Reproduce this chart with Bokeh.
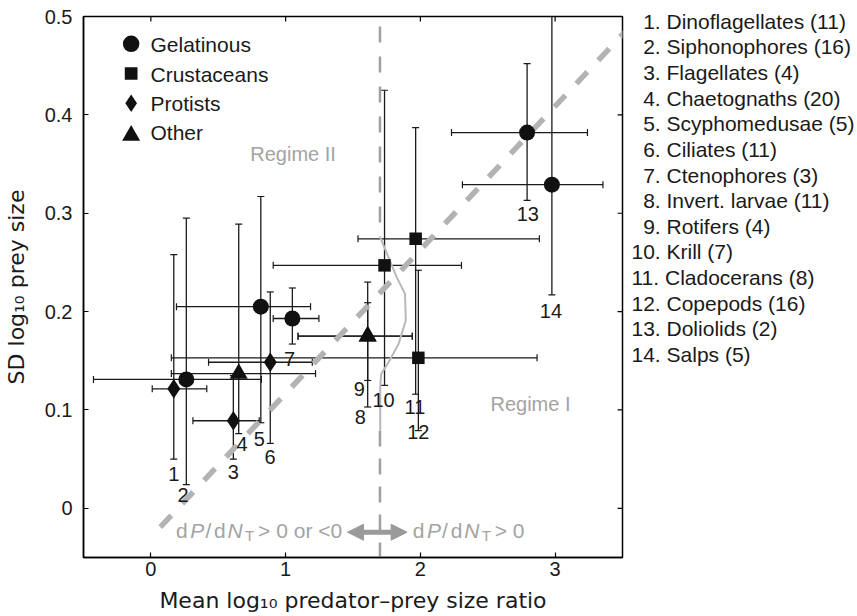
from bokeh.plotting import figure
from bokeh.models import (ColumnDataSource, Range1d, LinearAxis, FixedTicker, Label,
                          Arrow, NormalHead, Whisker, TeeHead)
from bokeh.core.properties import value
from bokeh.embed import file_html
from bokeh.resources import INLINE

# ---------------- data ----------------
taxa = ["Dinoflagellates", "Siphonophores", "Flagellates", "Chaetognaths",
        "Scyphomedusae", "Ciliates", "Ctenophores", "Invert. larvae", "Rotifers",
        "Krill", "Cladocerans", "Copepods", "Doliolids", "Salps"]
n_studies = [11, 16, 4, 20, 5, 11, 3, 11, 4, 7, 8, 16, 2, 5]
taxon_group = ["Protists", "Gelatinous", "Protists", "Other", "Gelatinous", "Protists",
               "Gelatinous", "Other", "Other", "Crustaceans", "Crustaceans",
               "Crustaceans", "Gelatinous", "Gelatinous"]
mean_ppmr = [0.170, 0.263, 0.612, 0.652, 0.816, 0.886, 1.050, 1.609, 1.609,
             1.734, 1.965, 1.985, 2.792, 2.976]
sd_prey = [0.1215, 0.131, 0.089, 0.137, 0.205, 0.1485, 0.193, 0.175, 0.175,
           0.247, 0.274, 0.153, 0.382, 0.329]
x_low = [0.010, -0.426, 0.312, 0.152, 0.190, 0.428, 0.908, 1.092, 1.092,
         0.908, 1.537, 0.152, 2.231, 2.312]
x_high = [0.415, 0.820, 0.804, 1.222, 1.185, 1.198, 1.247, 1.940, 1.940,
          2.305, 2.883, 2.866, 3.240, 3.355]
y_low = [0.050, 0.024, 0.050, 0.076, 0.087, 0.066, 0.167, 0.103, 0.130,
         0.125, 0.116, 0.079, 0.313, 0.217]
y_high = [0.258, 0.295, 0.135, 0.289, 0.317, 0.220, 0.224, 0.230, 0.209,
          0.425, 0.387, 0.242, 0.452, 0.500]
# position of each numeric tag (data units)
tag_x = [0.170, 0.238, 0.612, 0.676, 0.804, 0.885, 1.030, 1.554, 1.547,
         1.727, 1.960, 1.985, 2.797, 2.969]
tag_y = [0.0352, 0.0132, 0.0368, 0.0650, 0.0707, 0.0521, 0.1513, 0.0927, 0.1215,
         0.1103, 0.1028, 0.0775, 0.2992, 0.2010]

group_order = ["Gelatinous", "Crustaceans", "Protists", "Other"]

# reference lines
diag_x = [0.07, 3.55]
diag_y = [-0.019, 0.489]
regime_x = 1.70
dash_top_y = [0.50, 0.2755]
dash_bot_y = [0.0792, -0.05]
curve_x = [1.702, 1.825, 1.886, 1.892, 1.838, 1.764, 1.709, 1.702, 1.702]
curve_y = [0.2755, 0.2348, 0.218, 0.1909, 0.1672, 0.1485, 0.1367, 0.1232, 0.0792]

x_ticks = [0, 1, 2, 3]
y_ticks = [0, 0.1, 0.2, 0.3, 0.4, 0.5]
y_tick_labels = ["0", "0.1", "0.2", "0.3", "0.4", "0.5"]

# ---------------- layout / styling ----------------
FONT = "Liberation Sans"
TITLE_FONT = "DejaVu Sans"
INK = "#1a1a1a"
GRAY_TXT = "#a3a3a3"
X0, X1, Y0, Y1 = -0.5, 3.5, -0.05, 0.5
F_LEFT, F_RIGHT, F_TOP, F_BOTTOM = 79, 622, 16, 557      # frame box in page px
W, H = 857, 616
XPP = (X1 - X0) / (F_RIGHT - F_LEFT)   # data units per pixel
YPP = (Y1 - Y0) / (F_BOTTOM - F_TOP)


def px_to_data(px, py):
    return X0 + (px - F_LEFT) * XPP, Y0 + (F_BOTTOM - py) * YPP


p = figure(width=W, height=H, x_range=Range1d(X0, X1), y_range=Range1d(Y0, Y1),
           output_backend="svg", toolbar_location=None,
           min_border_left=F_LEFT, min_border_right=W - F_RIGHT,
           min_border_top=F_TOP, min_border_bottom=H - F_BOTTOM)
p.xgrid.visible = False
p.ygrid.visible = False
p.outline_line_color = "black"
p.outline_line_width = 1.5
p.background_fill_color = "white"
p.border_fill_color = "white"

for ax in [p.xaxis[0], p.yaxis[0]]:
    ax.major_tick_in = 5
    ax.major_tick_out = 0
    ax.minor_tick_line_color = None
    ax.axis_line_width = 1.5
    ax.major_tick_line_width = 1.2
    ax.major_label_text_font = FONT
    ax.major_label_text_font_size = "20px"
    ax.major_label_text_color = INK
    ax.axis_label_text_font = TITLE_FONT
    ax.axis_label_text_font_size = "22px"
    ax.axis_label_text_font_style = "normal"
    ax.axis_label_text_color = INK

p.xaxis[0].ticker = FixedTicker(ticks=x_ticks)
p.yaxis[0].ticker = FixedTicker(ticks=y_ticks)
p.yaxis[0].major_label_overrides = {v: s for v, s in zip(y_ticks, y_tick_labels)}
p.xaxis[0].axis_label = "Mean log\u2081\u2080 predator\u2013prey size ratio"
p.yaxis[0].axis_label = "SD log\u2081\u2080 prey size"
p.xaxis[0].major_label_standoff = 4
p.xaxis[0].axis_label_standoff = 9
p.yaxis[0].major_label_standoff = 11
p.yaxis[0].axis_label_standoff = 13

# inward tick marks on the top and right edges of the frame
p.segment(x0=x_ticks, y0=[Y1] * len(x_ticks), x1=x_ticks, y1=[Y1 - 5 * YPP] * len(x_ticks),
          line_color="black", line_width=1.2)
p.segment(x0=[X1] * len(y_ticks), y0=y_ticks, x1=[X1 - 5 * XPP] * len(y_ticks), y1=y_ticks,
          line_color="black", line_width=1.2)

# ---------------- reference lines ----------------
p.line(diag_x, diag_y, line_color="#b3b3b3", line_width=5.5, line_dash="16 16")
p.line([regime_x, regime_x], dash_top_y, line_color="#a0a0a0", line_width=2.5,
       line_dash="16 14", line_dash_offset=20)
p.line([regime_x, regime_x], dash_bot_y, line_color="#a0a0a0", line_width=2.5,
       line_dash="16 12")
p.line(curve_x, curve_y, line_color="#b8b8b8", line_width=2)

# ---------------- error bars ----------------
src = ColumnDataSource(dict(x=mean_ppmr, y=sd_prey, xlo=x_low, xhi=x_high,
                            ylo=y_low, yhi=y_high))


def tee():
    return TeeHead(size=7, line_color=INK, line_width=1.2)


p.add_layout(Whisker(source=src, base="x", lower="ylo", upper="yhi", dimension="height",
                     line_color=INK, line_width=1.3, lower_head=tee(), upper_head=tee()))
p.add_layout(Whisker(source=src, base="y", lower="xlo", upper="xhi", dimension="width",
                     line_color=INK, line_width=1.3, lower_head=tee(), upper_head=tee()))

# ---------------- markers ----------------
marker_of = {"Gelatinous": "circle", "Crustaceans": "square",
             "Protists": "diamond", "Other": "triangle"}
size_of = {"Gelatinous": 16, "Crustaceans": 12.5, "Protists": 19.5, "Other": 18}
for g in group_order:
    idx = [i for i, t in enumerate(taxon_group) if t == g]
    s = ColumnDataSource(dict(x=[mean_ppmr[i] for i in idx], y=[sd_prey[i] for i in idx]))
    p.scatter("x", "y", source=s, marker=marker_of[g], size=size_of[g],
              fill_color="#111111", line_color=None)

# ---------------- legend (drawn by hand, page-pixel layout) ----------------
key_px = 127
key_py = [43.3, 73.0, 102.7, 135.0]
label_px = 146.5
label_py = [43.8, 73.7, 102.5, 131.8]
key_size = {"Gelatinous": 16.5, "Crustaceans": 12.7, "Protists": 17.5, "Other": 18}
for g, ky, ly in zip(group_order, key_py, label_py):
    kx, kyd = px_to_data(key_px, ky)
    p.scatter([kx], [kyd], marker=marker_of[g], size=key_size[g],
              fill_color="#111111", line_color=None)
    lx, lyd = px_to_data(label_px, ly)
    p.add_layout(Label(x=lx, y=lyd, text=g, text_font=FONT, text_font_size="21px",
                       text_color=INK, text_baseline="middle"))

# ---------------- numeric tags ----------------
tag_src = ColumnDataSource(dict(x=tag_x, y=tag_y, t=[str(i + 1) for i in range(len(taxa))]))
p.text(x="x", y="y", text="t", source=tag_src, text_font=value(FONT),
       text_font_size="20px", text_align="center", text_baseline="middle", text_color=INK)

# ---------------- regime annotations ----------------
rx, ry = px_to_data(247, 153.3)
p.add_layout(Label(x=rx, y=ry, text="Regime II", text_font=FONT, text_font_size="20px",
                   text_color=GRAY_TXT, text_baseline="middle"))
rx, ry = px_to_data(489, 403.3)
p.add_layout(Label(x=rx, y=ry, text="Regime I", text_font=FONT, text_font_size="20px",
                   text_color=GRAY_TXT, text_baseline="middle"))

# dP/dN_T texts built from pieces (offsets in px from the first letter)
pieces = [("d", "normal", 0, 0, "21px"), ("P", "italic", 14.2, 0, "21px"),
          ("/", "normal", 29.3, 0, "21px"), ("d", "normal", 37.9, 0, "21px"),
          ("N", "italic", 51.5, 0, "21px"), ("T", "normal", 68.9, -5.5, "15px")]
for start_px, tail in [(172.3, "> 0 or <0"), (410.7, "> 0")]:
    x0, y0 = px_to_data(start_px, 529.5)
    for txt, style, dx, dy, fs in pieces + [(tail, "normal", 82, 0, "21px")]:
        p.add_layout(Label(x=x0, y=y0, x_offset=dx, y_offset=dy, text=txt,
                           text_font=FONT, text_font_style=style, text_font_size=fs,
                           text_color=GRAY_TXT, text_baseline="middle"))

ax0, ay = px_to_data(345, 531.7)
ax1, _ = px_to_data(405, 531.7)
p.add_layout(Arrow(start=NormalHead(size=16, fill_color="#9a9a9a", line_color="#9a9a9a"),
                   end=NormalHead(size=16, fill_color="#9a9a9a", line_color="#9a9a9a"),
                   x_start=ax0, y_start=ay, x_end=ax1, y_end=ay,
                   line_color="#9a9a9a", line_width=5))

# ---------------- right-hand key list: an unlined axis in the right border ----------------
row0_center = 20.7      # page px
row_pitch = 25.64
row_pos = [round(100 * (row0_center + row_pitch * i)) for i in range(len(taxa))]
list_text = [("\u2007" if i < 9 else "") + f"{i + 1}. {nm} ({n})"
             for i, (nm, n) in enumerate(zip(taxa, n_studies))]
p.extra_y_ranges = {"key_list": Range1d(start=100 * F_BOTTOM, end=100 * F_TOP)}
key_axis = LinearAxis(y_range_name="key_list", ticker=FixedTicker(ticks=row_pos),
                      major_label_overrides={t: s for t, s in zip(row_pos, list_text)},
                      axis_line_color=None, major_tick_line_color=None,
                      minor_tick_line_color=None, major_tick_in=0, major_tick_out=0,
                      major_label_standoff=9, major_label_text_font=FONT,
                      major_label_text_font_size="21px", major_label_text_color=INK)
p.add_layout(key_axis, "right")

open("out.html", "w").write(file_html(p, INLINE))
